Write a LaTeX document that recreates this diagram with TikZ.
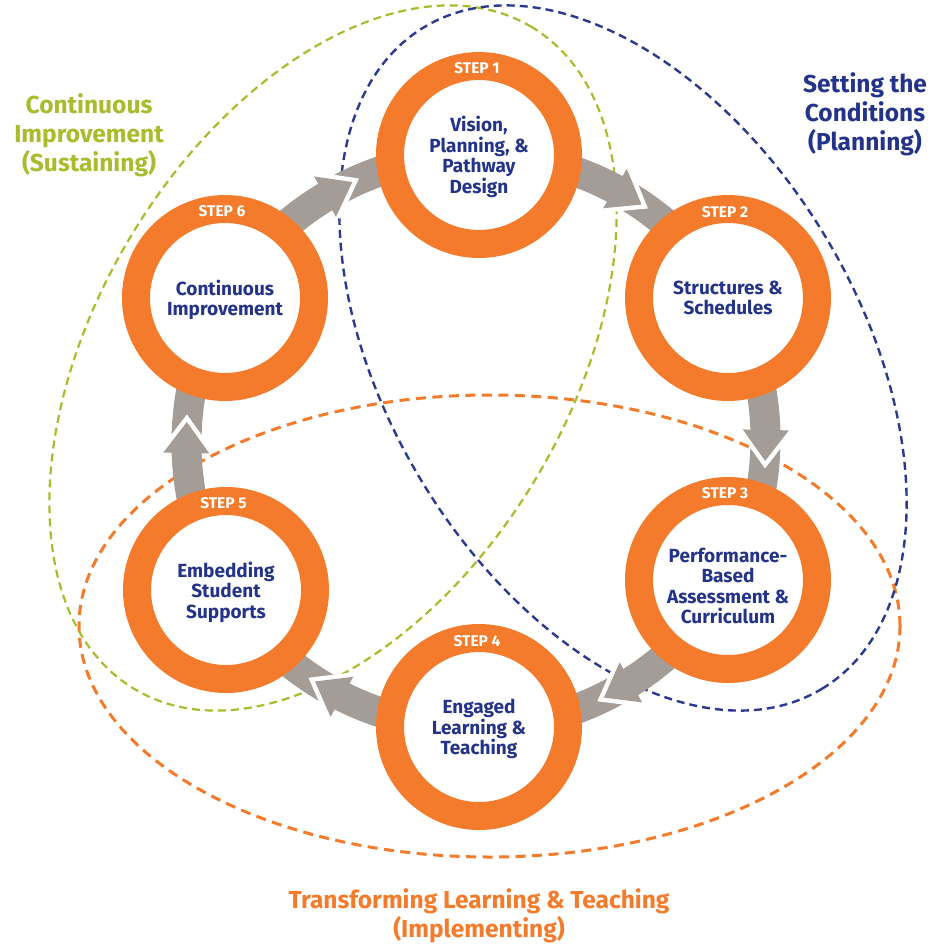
\documentclass[tikz,border=0pt]{standalone}
\usepackage{fontspec}
\setmainfont{Fira Sans}
\usetikzlibrary{decorations.markings}
\definecolor{ringorange}{HTML}{F37B2B}
\definecolor{navy}{HTML}{24338A}
\definecolor{leaf}{HTML}{A8BC2D}
\definecolor{planblue}{HTML}{2B3990}
\definecolor{arrowgray}{HTML}{A39C97}
\begin{document}
\begin{tikzpicture}[x=1pt,y=1pt,
  ringtext/.style={align=center, text=navy, inner sep=0pt,
    font=\bfseries\fontsize{19}{20.5}\selectfont, text depth=0pt},
  ring/.style={circle, draw=ringorange, line width=28pt, fill=white,
    minimum size=178pt, inner sep=0pt, ringtext},
  steplabel/.style={text=white, inner sep=0pt, text depth=0pt,
    font=\bfseries\fontsize{15.5}{16}\selectfont},
  biglabel/.style={align=center, inner sep=0pt, text depth=0pt,
    font=\bfseries\fontsize{24.5}{29}\selectfont},
  band/.style={draw=arrowgray, line width=30pt, postaction={decorate},
    decoration={markings, mark=at position 0.52 with {
      \draw[white, line width=9pt, line join=miter] (-15,23) -- (16,0) -- (-15,-23);
      \fill[arrowgray] (-15,23) -- (16,0) -- (-15,-23) -- cycle;}}},
  orangedash/.style={draw=ringorange, line width=3pt, dash pattern=on 10pt off 6.5pt},
  greendash/.style={draw=leaf, line width=2.2pt, dash pattern=on 8pt off 5pt},
  bluedash/.style={draw=planblue, line width=2.4pt, dash pattern=on 8pt off 5pt}
]
\useasboundingbox (0,0) rectangle (934,-944);

% dashed ellipses (under everything)
\draw[orangedash] (489.5,-626) ellipse [x radius=410.5, y radius=231];
\draw[greendash, rotate around={59:(333,-358)}] (333,-358) ellipse [x radius=386, y radius=236];
\draw[bluedash, rotate around={-59:(623,-358)}] (623,-358) ellipse [x radius=386, y radius=236];

% ring positions
\coordinate (c1) at (479,-155);
\coordinate (c2) at (728,-298);
\coordinate (c3) at (728,-580);
\coordinate (c4) at (479,-727);
\coordinate (c5) at (226,-590);
\coordinate (c6) at (225,-298);

% arrow bands
\draw[band] (c1) to[bend left=30, looseness=0.91] (c2);
\draw[band] (c2) to[bend left=30, looseness=0.91] (c3);
\draw[band] (c3) to[bend left=30, looseness=0.91] (c4);
\draw[band] (c4) to[bend left=30, looseness=0.91] (c5);
\draw[band] (c5) to[bend left=30, looseness=0.91] (c6);
\draw[band] (c6) to[bend left=30, looseness=0.91] (c1);

% rings
\node[ring] (s1) at (c1) {Vision,\\Planning, \&\\Pathway\\Design};
\node[ring] (s2) at (c2) {Structures \&\\Schedules};
\node[ring] (s3) at (c3) {};
\node[ringtext] (s3t) at (728,-586) {Performance-\\Based\\Assessment \&\\Curriculum};
\node[ring] (s4) at (c4) {Engaged\\Learning \&\\Teaching};
\node[ring] (s5) at (c5) {Embedding\\Student\\Supports};
\node[ring] (s6) at (c6) {Continuous\\Improvement};

% step labels
\node[steplabel] (t1) at (477,-67.5) {STEP 1};
\node[steplabel] (t2) at (725,-211.5) {STEP 2};
\node[steplabel] (t3) at (725,-493) {STEP 3};
\node[steplabel] (t4) at (477,-640.5) {STEP 4};
\node[steplabel] (t5) at (223.5,-503) {STEP 5};
\node[steplabel] (t6) at (222,-211) {STEP 6};

% big labels
\node[biglabel, text=leaf] (lsus) at (89,-132.5) {Continuous\\Improvement\\(Sustaining)};
\node[biglabel, text=navy] (lplan) at (865,-112) {Setting the\\Conditions\\(Planning)};
\node[biglabel, text=ringorange] (limp) at (479,-913) {Transforming Learning \& Teaching\\(Implementing)};
\end{tikzpicture}
\end{document}
